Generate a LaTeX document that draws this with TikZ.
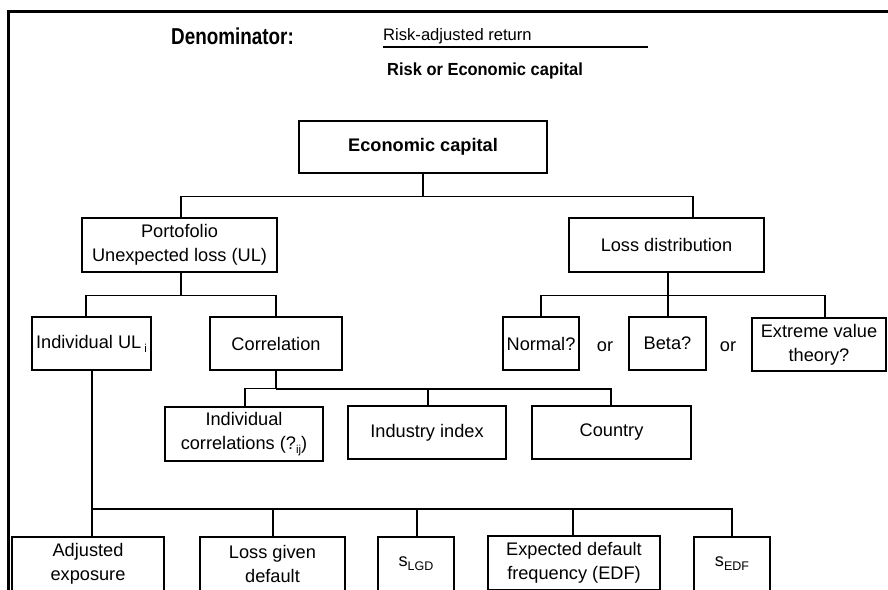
\documentclass[tikz,border=0pt]{standalone}
\usepackage{fontspec}
\setmainfont{Liberation Sans}
\newfontfamily\denfont{Liberation Sans}[FakeStretch=0.82]
\newfontfamily\riskfont{Liberation Sans}[FakeStretch=0.94]
\usetikzlibrary{calc}
\begin{document}
\begin{tikzpicture}[x=1pt,y=-1pt,
  box/.style={draw=black,line width=1.3pt,inner sep=0pt,align=center,
    font=\fontsize{18.2}{24}\selectfont},
  thin/.style={line width=1.3pt},
  thick/.style={line width=2.3pt},
  frame/.style={line width=3pt},
  txt/.style={inner sep=0pt}]
\useasboundingbox (0,0) rectangle (888,589);
\clip (0,0) rectangle (888,589);
% frame
\draw[frame] (888,11) -- (8,11) -- (8,600);
% title
\node[txt,anchor=base west,font=\denfont\bfseries\fontsize{23}{26}\selectfont] (den) at (171,44) {Denominator:};
\node[txt,anchor=base west,font=\fontsize{16.6}{20}\selectfont] (num) at (383,40) {Risk-adjusted return};
\coordinate (fl) at (383,47);
\coordinate (fr) at (648,47);
\draw[thin] (fl) -- (fr);
\node[txt,anchor=base west,font=\riskfont\bfseries\fontsize{17.5}{20}\selectfont] (dnm) at (387,75) {Risk or Economic capital};
% boxes
\node[box,minimum width=248,minimum height=52,font=\bfseries\fontsize{18.2}{22}\selectfont] (ec) at (423,147) {Economic capital};
\node[box,minimum width=195,minimum height=54] (port) at (179.5,245) {Portofolio\\Unexpected loss (UL)};
\node[box,minimum width=195,minimum height=54] (lossd) at (666.5,245) {Loss distribution};
\node[box,minimum width=119,minimum height=53] (indul) at (91.5,343.5) {Individual UL\,{\fontsize{11.5}{12}\selectfont\raisebox{-4pt}{i}}};
\node[box,minimum width=132,minimum height=53] (corr) at (276,343.5) {Correlation};
\node[box,minimum width=76,minimum height=53] (normal) at (541,343.5) {Normal?};
\node[box,minimum width=77,minimum height=53] (beta) at (667.5,343.5) {Beta?};
\node[box,minimum width=134,minimum height=53] (extreme) at (819,344.5) {Extreme value\\theory?};
\node[txt,font=\fontsize{18.2}{20}\selectfont] (or1) at (605,347) {or};
\node[txt,font=\fontsize{18.2}{20}\selectfont] (or2) at (728,347) {or};
\node[box,minimum width=158,minimum height=54] (indcorr) at (244,434) {Individual\\correlations (?{\fontsize{11.5}{12}\selectfont\raisebox{-4pt}{ij}})};
\node[box,minimum width=158,minimum height=53] (industry) at (427,432.5) {Industry index};
\node[box,minimum width=159,minimum height=53] (country) at (611.5,432.5) {Country};
\node[box,minimum width=152,minimum height=54] (adj) at (88,564) {Adjusted\\exposure};
\node[box,minimum width=145,minimum height=54] (lgd) at (272.5,564) {Loss given\\default};
\node[box,minimum width=76,minimum height=54] (slgd) at (416,564) {s{\fontsize{12.5}{12}\selectfont\raisebox{-4pt}{LGD}}};
\node[box,minimum width=172,minimum height=54] (edf) at (574,563) {Expected default\\frequency (EDF)};
\node[box,minimum width=76,minimum height=54] (sedf) at (732,564) {s{\fontsize{12.5}{12}\selectfont\raisebox{-4pt}{EDF}}};
% connectors level 1
\coordinate (b1) at ($(ec.south)+(0,23)$);
\draw[thin] (ec.south) -- (b1);
\draw[thin] ([xshift=1.5pt]port.north) |- (b1) -| ([xshift=26.5pt]lossd.north);
% portfolio children
\coordinate (b2) at ($(port.south)+(1.5,23)$);
\draw[thin] ([xshift=1.5pt]port.south) -- (b2);
\draw[thin] ([xshift=-5.5pt]indul.north) |- (b2) -| (corr.north);
% loss distribution children
\coordinate (b3) at ($(lossd.south)+(1.5,23)$);
\draw[thick] ([xshift=1.5pt]lossd.south) -- (b3);
\draw[thin] (normal.north) |- (b3) -| ([xshift=6pt]extreme.north);
\draw[thin] (b3) -- ([xshift=0.5pt]beta.north);
% correlation children
\coordinate (b4) at ($(corr.south)+(0,18)$);
\draw[thick] (corr.south) -- (b4);
\draw[thin] ([xshift=1pt]indcorr.north) |- (b4);
\draw[thick] (b4) -| ([xshift=-0.5pt]country.north);
\draw[thin] ([xshift=1pt]industry.north) -- ([xshift=1pt]industry.north |- b4);
% individual UL children
\coordinate (b5) at ($(indul.south)+(0.5,138)$);
\draw[thick] ([xshift=0.5pt]indul.south) -- (b5);
\draw[thick] (b5) -| (sedf.north);
\draw[thin] (b5) -- ([xshift=4pt]adj.north);
\draw[thin] ([xshift=0.5pt]lgd.north) -- ([xshift=0.5pt]lgd.north |- b5);
\draw[thin] ([xshift=1pt]slgd.north) -- ([xshift=1pt]slgd.north |- b5);
\draw[thin] ([xshift=-1pt]edf.north) -- ([xshift=-1pt]edf.north |- b5);
\end{tikzpicture}
\end{document}
